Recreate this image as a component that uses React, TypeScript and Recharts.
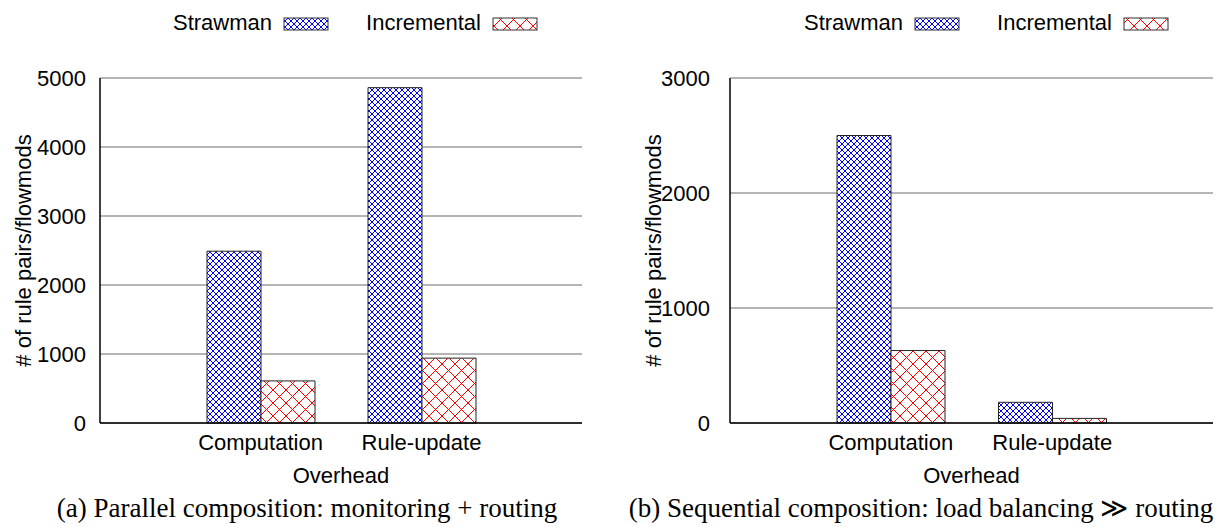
import React from "react";
import { BarChart, Bar, XAxis, YAxis, CartesianGrid, Legend, Label } from "recharts";

const categories = ["Computation", "Rule-update"];
const seriesNames = ["Strawman", "Incremental"];
const parallelStrawman = [2490, 4860];
const parallelIncremental = [610, 940];
const sequentialStrawman = [2500, 180];
const sequentialIncremental = [630, 40];
const parallelTicks = [0, 1000, 2000, 3000, 4000, 5000];
const sequentialTicks = [0, 1000, 2000, 3000];
const xAxisTitle = "Overhead";
const yAxisTitle = "# of rule pairs/flowmods";
const captions = [
  "(a) Parallel composition: monitoring + routing",
  "(b) Sequential composition: load balancing \u226B routing",
];

const W = 614;
const H = 527;
const PLOT_TOP = 78;
const PLOT_BOTTOM = 423;
const SANS = "'Liberation Sans', Arial, Helvetica, sans-serif";
const SERIF = "'Liberation Serif', 'Times New Roman', serif";

const Patterns = ({ id }: { id: string }) => (
  <defs>
    <pattern id={`blue-${id}`} patternUnits="userSpaceOnUse" width={6} height={6}>
      <rect x={0} y={0} width={6} height={6} fill="#fff" />
      <path d="M0,0 L6,6 M6,0 L0,6" stroke="#0000ff" strokeWidth={1} />
    </pattern>
    <pattern id={`red-${id}`} patternUnits="userSpaceOnUse" width={13} height={13}>
      <rect x={0} y={0} width={13} height={13} fill="#fff" />
      <path d="M0,0 L13,13 M13,0 L0,13" stroke="#ff0000" strokeWidth={1} />
    </pattern>
  </defs>
);

type PanelProps = {
  id: string;
  left: number;
  yWidth: number;
  marginRight: number;
  tickMargin: number;
  ticks: number[];
  strawman: number[];
  incremental: number[];
  swatchX: number;
  caption: string;
};

const LegendBox = ({ id, swatchX }: { id: string; swatchX: number }) => (
  <svg width={W} height={45} style={{ display: "block" }}>
    <Patterns id={`lg-${id}`} />
    {seriesNames.map((n, i) => {
      const sx = swatchX + i * 209;
      return (
        <g key={n}>
          <text x={sx - 12} y={30} textAnchor="end" fontSize={22} fontFamily={SANS} fill="#000">
            {n}
          </text>
          <rect
            x={sx}
            y={18}
            width={44}
            height={12}
            fill={`url(#${i === 0 ? "blue" : "red"}-lg-${id})`}
            stroke="#333"
            strokeWidth={1}
          />
        </g>
      );
    })}
  </svg>
);

const Panel = (p: PanelProps) => {
  const rows = categories.map((c, i) => ({
    name: c,
    strawman: p.strawman[i],
    incremental: p.incremental[i],
  }));
  const domain = [p.ticks[0], p.ticks[p.ticks.length - 1]];
  return (
    <div style={{ position: "absolute", left: p.left, top: 0, width: W, height: H }}>
      <BarChart
        width={W}
        height={H}
        data={rows}
        margin={{ top: PLOT_TOP, right: p.marginRight, bottom: 0, left: 0 }}
        barGap={0}
        barSize={54}
      >
        <Patterns id={p.id} />
        <CartesianGrid vertical={false} stroke="#6a6a6a" strokeWidth={1} />
        <XAxis
          dataKey="name"
          height={H - PLOT_BOTTOM}
          padding={{ left: 80, right: 80 }}
          interval={0}
          tickLine={false}
          tickSize={0}
          tickMargin={11}
          axisLine={{ stroke: "#000", strokeWidth: 1.5 }}
          tick={{ fill: "#000", fontSize: 22, fontFamily: SANS }}
          label={
            <Label
              content={(lp: any) => {
                const vb = lp.viewBox;
                return (
                  <text
                    x={vb.x + vb.width / 2}
                    y={483}
                    textAnchor="middle"
                    fontSize={22}
                    fontFamily={SANS}
                    fill="#000"
                  >
                    {xAxisTitle}
                  </text>
                );
              }}
            />
          }
        />
        <XAxis
          xAxisId="top"
          orientation="top"
          dataKey="name"
          height={0}
          tick={false}
          tickLine={false}
          axisLine={{ stroke: "#000", strokeWidth: 1.5 }}
        />
        <YAxis
          width={p.yWidth}
          domain={domain}
          ticks={p.ticks}
          interval={0}
          tickLine={false}
          tickSize={0}
          tickMargin={p.tickMargin}
          axisLine={{ stroke: "#000", strokeWidth: 1.5 }}
          tick={{ fill: "#000", fontSize: 22, fontFamily: SANS }}
          label={
            <Label
              content={(lp: any) => {
                const vb = lp.viewBox;
                const cx = p.yWidth - 77;
                const cy = vb.y + vb.height / 2;
                return (
                  <text
                    x={cx}
                    y={cy}
                    transform={`rotate(-90, ${cx}, ${cy})`}
                    textAnchor="middle"
                    dominantBaseline="central"
                    fontSize={22}
                    fontFamily={SANS}
                    fill="#000"
                  >
                    {yAxisTitle}
                  </text>
                );
              }}
            />
          }
        />
        <YAxis
          yAxisId="right"
          orientation="right"
          width={0}
          domain={domain}
          tick={false}
          tickLine={false}
          axisLine={{ stroke: "#000", strokeWidth: 1.5 }}
        />
        <Legend
          verticalAlign="middle"
          align="center"
          layout="horizontal"
          wrapperStyle={{ position: "absolute", top: 0, left: 0, width: W, height: 45 }}
          content={() => <LegendBox id={p.id} swatchX={p.swatchX} />}
        />
        <Bar
          dataKey="strawman"
          name={seriesNames[0]}
          fill={`url(#blue-${p.id})`}
          stroke="#222"
          strokeWidth={1}
          isAnimationActive={false}
        />
        <Bar
          dataKey="incremental"
          name={seriesNames[1]}
          fill={`url(#red-${p.id})`}
          stroke="#222"
          strokeWidth={1}
          isAnimationActive={false}
        />
      </BarChart>
      <div
        style={{
          position: "absolute",
          left: 0,
          top: 495,
          width: W,
          textAlign: "center",
          fontFamily: SERIF,
          fontSize: 27,
          lineHeight: "27px",
          whiteSpace: "nowrap",
          color: "#000",
        }}
      >
        {p.caption}
      </div>
    </div>
  );
};

export default function App() {
  return (
    <div
      style={{
        position: "absolute",
        left: 0,
        top: 0,
        width: 1228,
        height: 527,
        background: "#fff",
        overflow: "hidden",
      }}
    >
      <Panel
        id="a"
        left={0}
        yWidth={100}
        marginRight={32}
        tickMargin={14}
        ticks={parallelTicks}
        strawman={parallelStrawman}
        incremental={parallelIncremental}
        swatchX={284}
        caption={captions[0]}
      />
      <Panel
        id="b"
        left={614}
        yWidth={116}
        marginRight={15}
        tickMargin={20}
        ticks={sequentialTicks}
        strawman={sequentialStrawman}
        incremental={sequentialIncremental}
        swatchX={301}
        caption={captions[1]}
      />
    </div>
  );
}
